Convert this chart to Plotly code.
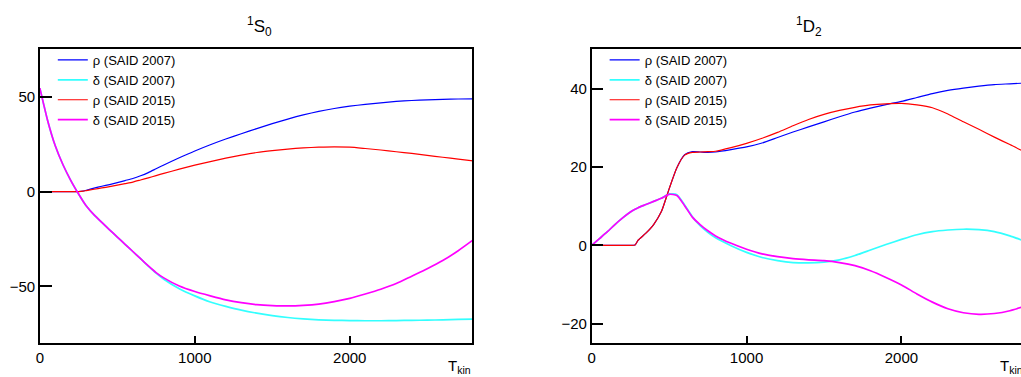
import plotly.graph_objects as go

# ---------------- data ----------------
t_kin = [0, 50, 100, 150, 200, 250, 280, 300, 350, 400, 450, 500, 550, 600, 650, 700, 750, 800,
         900, 1000, 1100, 1200, 1300, 1400, 1500, 1600, 1700, 1800, 1900, 2000,
         2100, 2200, 2300, 2400, 2500, 2600, 2700, 2800]

# 1S0 panel
s0_rho_2007 = [0, 0, 0, 0, 0, 0, 0.3, 0.7, 1.8, 2.8, 3.7, 4.7, 5.8, 6.9, 8.3, 10.0, 12.0, 14.0,
               17.8, 21.4, 24.7, 27.7, 30.5, 33.2, 35.8, 38.2, 40.4, 42.3, 43.8, 45.0,
               46.0, 46.8, 47.5, 48.0, 48.3, 48.6, 48.8, 48.9]
s0_delta_2007 = [54.5, 37.5, 24.0, 14.0, 5.8, -1.3, -5.2, -7.6, -12.3, -16.3, -20.2, -24.0, -27.8,
                 -31.6, -35.4, -39.3, -43.0, -46.2,
                 -51.2, -55.0, -58.2, -60.5, -62.5, -64.1, -65.4, -66.4, -67.1, -67.6, -67.9, -68.0,
                 -68.1, -68.1, -68.0, -67.9, -67.8, -67.6, -67.4, -67.2]
s0_rho_2015 = [0, 0, 0, 0, 0, 0, 0.2, 0.5, 1.2, 1.9, 2.6, 3.4, 4.2, 5.0, 6.1, 7.2, 8.4, 9.6,
               11.8, 13.9, 15.8, 17.6, 19.2, 20.6, 21.6, 22.4, 23.0, 23.4, 23.6, 23.4,
               22.7, 21.9, 21.0, 20.1, 19.1, 18.1, 17.1, 16.1]
s0_delta_2015 = [54.5, 37.5, 24.0, 14.0, 5.8, -1.3, -5.2, -7.6, -12.3, -16.3, -20.2, -24.0, -27.8,
                 -31.6, -35.4, -39.2, -42.7, -45.5,
                 -49.8, -52.7, -55.0, -57.1, -58.6, -59.6, -60.1, -60.3, -60.0, -59.3, -58.0, -56.3,
                 -54.0, -51.5, -48.5, -44.6, -40.7, -36.4, -31.2, -25.3]

# 1D2 panel
d2_rho_2007 = [0, 0, 0, 0, 0, 0, 0.1, 1.3, 3.1, 5.3, 8.6, 14.4, 19.8, 23.1, 23.9, 23.8, 23.7, 23.8,
               24.4, 25.1, 26.1, 27.5, 28.9, 30.2, 31.5, 32.8, 34.0, 35.0, 35.9, 36.7,
               37.7, 38.7, 39.5, 40.1, 40.6, 41.0, 41.2, 41.4]
d2_delta_2007 = [0, 1.7, 3.4, 5.3, 7.0, 8.5, 9.2, 9.6, 10.4, 11.2, 12.0, 13.1, 12.9, 10.3, 7.3, 5.0, 3.3, 1.9,
                 -0.1, -1.8, -3.1, -3.9, -4.4, -4.5, -4.3, -3.7, -2.6, -1.2, 0.2, 1.5,
                 2.7, 3.5, 3.9, 4.1, 4.0, 3.5, 2.4, 1.0]
d2_rho_2015 = [0, 0, 0, 0, 0, 0, 0.1, 1.3, 3.1, 5.3, 8.6, 14.4, 19.8, 23.0, 23.7, 23.8, 23.9, 24.0,
               24.9, 26.0, 27.3, 28.8, 30.5, 32.1, 33.4, 34.4, 35.2, 35.8, 36.1, 36.2,
               35.8, 35.1, 33.5, 31.5, 29.6, 27.6, 25.7, 23.7]
d2_delta_2015 = [0, 1.7, 3.4, 5.3, 7.0, 8.5, 9.2, 9.6, 10.4, 11.2, 12.0, 13.0, 12.7, 10.1, 7.2, 5.3, 3.7, 2.4,
                 0.5, -1.0, -2.2, -2.9, -3.4, -3.7, -3.9, -4.4, -5.2, -6.5, -8.2, -10.1,
                 -12.4, -14.5, -16.2, -17.2, -17.6, -17.4, -16.7, -15.5]

series_names = ["ρ (SAID 2007)", "δ (SAID 2007)", "ρ (SAID 2015)", "δ (SAID 2015)"]
series_colors = ["#0000ff", "#33ffff", "#ff0000", "#ff00ff"]
series_widths = [1.2, 1.7, 1.2, 1.7]

panel_titles = ["<sup>1</sup>S<sub>0</sub>", "<sup>1</sup>D<sub>2</sub>"]
x_ticks = [0, 1000, 2000]
y_ticks_s0 = [-50, 0, 50]
y_ticks_d2 = [-20, 0, 20, 40]

# ---------------- figure ----------------
W, H = 1021, 377
FONT = "'Liberation Sans', Arial, sans-serif"

fig = go.Figure()

panels = [
    ([s0_rho_2007, s0_delta_2007, s0_rho_2015, s0_delta_2015], "x", "y", "legend"),
    ([d2_rho_2007, d2_delta_2007, d2_rho_2015, d2_delta_2015], "x2", "y2", "legend2"),
]
for data, xa, ya, lg in panels:
    for vals, name, col, w in zip(data, series_names, series_colors, series_widths):
        fig.add_trace(go.Scatter(
            x=t_kin, y=vals, mode="lines", name=name,
            line=dict(color=col, width=w, shape="spline", smoothing=0.6),
            xaxis=xa, yaxis=ya, legend=lg, showlegend=True,
        ))

y_dom = [1 - 343.3 / H, 1 - 49.3 / H]
axis_common = dict(
    showline=True, linecolor="black", linewidth=1.5,
    ticks="inside", tickcolor="black", tickwidth=1.5,
    showgrid=False, zeroline=False,
    tickfont=dict(family=FONT, size=15, color="black"),
)

fig.update_layout(
    width=W, height=H,
    font=dict(family=FONT, color="black"),
    margin=dict(l=0, r=0, t=0, b=0),
    paper_bgcolor="white", plot_bgcolor="white",
    xaxis=dict(domain=[36 / W, 470 / W], range=[0, 2790], tickvals=x_ticks, ticklen=8,
               mirror=True, anchor="y", **axis_common),
    yaxis=dict(domain=y_dom, range=[-80, 75], tickvals=y_ticks_s0, ticklen=12,
               mirror=True, anchor="x", **axis_common),
    xaxis2=dict(domain=[590 / W, 1.0], range=[0, 2772], tickvals=x_ticks, ticklen=8,
                mirror=True, anchor="y2", **axis_common),
    yaxis2=dict(domain=y_dom, range=[-25, 50], tickvals=y_ticks_d2, ticklen=12,
                mirror=False, anchor="x2", **axis_common),
    legend=dict(x=49 / W, y=1 - 45 / H, xanchor="left", yanchor="top",
                bgcolor="rgba(0,0,0,0)", borderwidth=0, itemwidth=30,
                font=dict(family=FONT, size=13, color="black"), traceorder="normal"),
    legend2=dict(x=603 / W, y=1 - 45 / H, xanchor="left", yanchor="top",
                 bgcolor="rgba(0,0,0,0)", borderwidth=0, itemwidth=30,
                 font=dict(family=FONT, size=13, color="black"), traceorder="normal"),
)

annotations = [
    dict(text=panel_titles[0], x=257 / W, y=1 - 27 / H, xref="paper", yref="paper",
         xanchor="center", yanchor="middle", showarrow=False,
         font=dict(family=FONT, size=17, color="black")),
    dict(text=panel_titles[1], x=808 / W, y=1 - 27 / H, xref="paper", yref="paper",
         xanchor="center", yanchor="middle", showarrow=False,
         font=dict(family=FONT, size=17, color="black")),
    dict(text="T<sub>kin</sub>", x=471 / W, y=1 - 366 / H, xref="paper", yref="paper",
         xanchor="right", yanchor="middle", showarrow=False,
         font=dict(family=FONT, size=15, color="black")),
    dict(text="T<sub>kin</sub>", x=1025 / W, y=1 - 366 / H, xref="paper", yref="paper",
         xanchor="right", yanchor="middle", showarrow=False,
         font=dict(family=FONT, size=15, color="black")),
]
fig.update_layout(annotations=annotations)

fig.write_html(
    "out.html",
    config={"displayModeBar": False},
    post_script="document.body.style.margin='0px';document.body.style.overflow='hidden';",
)
